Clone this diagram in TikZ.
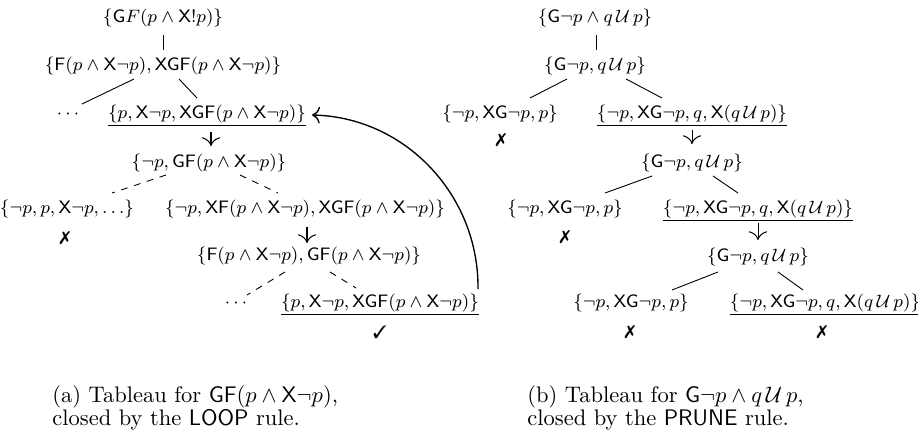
\documentclass[tikz,border=0pt]{standalone}
\usepackage{pifont}
\usetikzlibrary{arrows.meta,calc}
\newcommand{\sG}{\mathsf{G}}
\newcommand{\sF}{\mathsf{F}}
\newcommand{\sX}{\mathsf{X}}
\newcommand{\qUp}{q\,\mathcal{U}\,p}
\tikzset{
  tnode/.style={anchor=base, inner sep=1pt, font=\fontsize{7.7}{9.2}\selectfont},
  signnode/.style={anchor=center, inner sep=0pt, font=\fontsize{8}{9.5}\selectfont},
  conn/.style={line width=0.4pt},
  dconn/.style={line width=0.4pt, dashed},
  darrow/.style={line width=0.45pt, -{Computer Modern Rightarrow[scale=1.5]}},
  looparrow/.style={line width=0.6pt, -{Computer Modern Rightarrow[scale=1.2]}},
  capt/.style={anchor=north west, inner sep=0pt, align=left, font=\fontsize{10}{10.3}\selectfont}
}
\begin{document}
\begin{tikzpicture}[x=0.4444pt, y=-0.4444pt]
\useasboundingbox (0,0) rectangle (918,434);
% ---------- left tableau ----------
\node[tnode] (n1) at (163,22) {$\{\sG F(p\wedge\sX!p)\}$};
\node[tnode] (n2) at (163,70) {$\{\sF(p\wedge\sX\neg p), \sX\sG\sF(p\wedge\sX\neg p)\}$};
\node[tnode] (d1) at (68,118) {$\cdots$};
\node[tnode] (n3) at (207,118) {$\underline{\{p, \sX\neg p, \sX\sG\sF(p\wedge\sX\neg p)\}}$};
\node[tnode] (n4) at (209,167) {$\{\neg p, \sG\sF(p\wedge\sX\neg p)\}$};
\node[tnode] (n5) at (67,213) {$\{\neg p, p, \sX\neg p, \ldots\}$};
\node[signnode] (c1) at (65,238) {\ding{55}};
\node[tnode] (n6) at (305,213) {$\{\neg p, \sX\sF(p\wedge\sX\neg p), \sX\sG\sF(p\wedge\sX\neg p)\}$};
\node[tnode] (n7) at (309,260) {$\{\sF(p\wedge\sX\neg p), \sG\sF(p\wedge\sX\neg p)\}$};
\node[tnode] (d2) at (236,307) {$\cdots$};
\node[tnode] (n8) at (380,307) {$\underline{\{p, \sX\neg p, \sX\sG\sF(p\wedge\sX\neg p)\}}$};
\node[signnode] (k1) at (380,332) {\ding{51}};

\draw[conn] ($(n1.base)+(0,13)$) -- ($(n2.base)+(0,-20)$);
\draw[conn] ($(n2.base)+(-29,9)$) -- ($(d1.base)+(14,-14)$);
\draw[conn] ($(n2.base)+(16,9)$) -- ($(n3.base)+(-10,-20)$);
\draw[darrow] ($(n3.base)+(4,14)$) -- ($(n4.base)+(2,-21)$);
\draw[dconn] ($(n4.base)+(-43,8)$) -- ($(n5.base)+(45,-20)$);
\draw[dconn] ($(n4.base)+(31,8)$) -- ($(n6.base)+(-27,-20)$);
\draw[darrow] ($(n6.base)+(2,14)$) -- ($(n7.base)+(-2,-17)$);
\draw[dconn] ($(n7.base)+(-24,12)$) -- ($(d2.base)+(11,-12)$);
\draw[dconn] ($(n7.base)+(21,12)$) -- ($(n8.base)+(-24,-19)$);
\draw[looparrow] ($(n8.base)+(98,-18)$) .. controls (479,195) and (405,117) .. ($(n3.base)+(105,-3)$);

% ---------- right tableau ----------
\node[tnode] (m1) at (595,22) {$\{\sG\neg p\wedge \qUp\}$};
\node[tnode] (m2) at (595,70) {$\{\sG\neg p, \qUp\}$};
\node[tnode] (m3) at (500,118) {$\{\neg p, \sX\sG\neg p, p\}$};
\node[signnode] (x1) at (501,140) {\ding{55}};
\node[tnode] (m4) at (692,118) {$\underline{\{\neg p, \sX\sG\neg p, q, \sX(\qUp)\}}$};
\node[tnode] (m5) at (692,167) {$\{\sG\neg p, \qUp\}$};
\node[tnode] (m6) at (565,213) {$\{\neg p, \sX\sG\neg p, p\}$};
\node[signnode] (x2) at (565,237) {\ding{55}};
\node[tnode] (m7) at (758,213) {$\underline{\{\neg p, \sX\sG\neg p, q, \sX(\qUp)\}}$};
\node[tnode] (m8) at (758,261) {$\{\sG\neg p, \qUp\}$};
\node[tnode] (m9) at (631,307) {$\{\neg p, \sX\sG\neg p, p\}$};
\node[signnode] (x3) at (630,332) {\ding{55}};
\node[tnode] (m10) at (825,307) {$\underline{\{\neg p, \sX\sG\neg p, q, \sX(\qUp)\}}$};
\node[signnode] (x4) at (822,332) {\ding{55}};

\draw[conn] ($(m1.base)+(1,13)$) -- ($(m2.base)+(1,-20)$);
\draw[conn] ($(m2.base)+(-28,9)$) -- ($(m3.base)+(30,-20)$);
\draw[conn] ($(m2.base)+(31,9)$) -- ($(m4.base)+(-30,-20)$);
\draw[darrow] ($(m4.base)+(0,12)$) -- ($(m5.base)+(0,-23)$);
\draw[conn] ($(m5.base)+(-40,9)$) -- ($(m6.base)+(40,-20)$);
\draw[conn] ($(m5.base)+(21,9)$) -- ($(m7.base)+(-20,-20)$);
\draw[darrow] ($(m7.base)+(0,10)$) -- ($(m8.base)+(0,-21)$);
\draw[conn] ($(m8.base)+(-40,11)$) -- ($(m9.base)+(41,-17)$);
\draw[conn] ($(m8.base)+(20,11)$) -- ($(m10.base)+(-22,-17)$);

% ---------- captions ----------
\node[capt] (capa) at (52,385) {(a) Tableau for $\sG\sF(p\wedge\sX\neg p)$,\\closed by the \textsf{LOOP} rule.};
\node[capt] (capb) at (527,385) {(b) Tableau for $\sG\neg p\wedge \qUp$,\\closed by the \textsf{PRUNE} rule.};
\end{tikzpicture}
\end{document}
